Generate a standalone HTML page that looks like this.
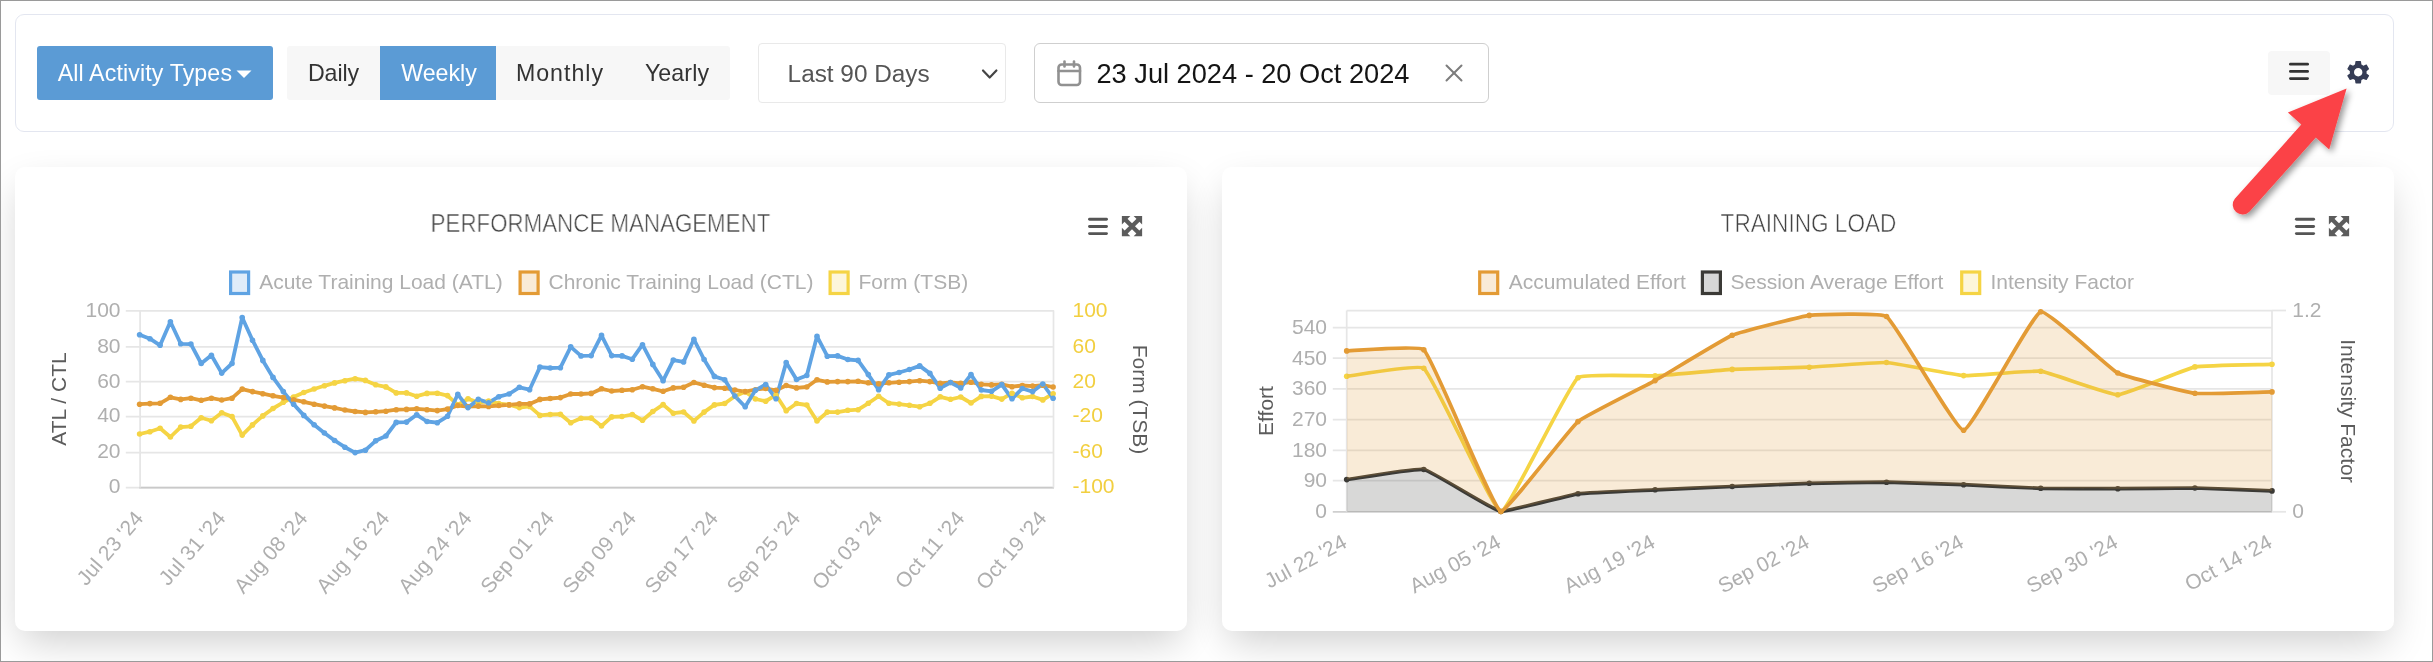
<!DOCTYPE html>
<html><head><meta charset="utf-8"><title>Dashboard</title>
<style>
html,body{margin:0;padding:0}
body{width:2433px;height:662px;position:relative;overflow:hidden;background:#fff;font-family:"Liberation Sans", sans-serif;}
.frame{position:absolute;left:0;top:0;width:2431px;height:660px;border:1px solid #9a9a9a;z-index:50;pointer-events:none}
#root{position:absolute;left:0;top:0;width:2433px;height:662px;will-change:transform;transform:translateZ(0)}
.abs{position:absolute;box-sizing:border-box}
.ch{position:absolute;left:0;top:0}
.tk{font-family:"Liberation Sans", sans-serif;font-size:21px}
.toolbar{left:15px;top:14px;width:2379px;height:118px;border:1px solid #e3e6f0;border-radius:9px;background:#fff}
.card{top:167px;width:1172px;height:464px;border-radius:10px;background:#fff;box-shadow:0 16px 40px -6px rgba(0,0,0,.2)}
.btn{top:46px;height:54px;line-height:55.5px;text-align:center;white-space:nowrap;font-size:23px}
.title{top:208.3px;font-size:25.2px;color:#444;text-align:center;white-space:nowrap;line-height:30px;-webkit-text-stroke:0.55px #fff}
</style></head><body>
<div id="root">
<div class="abs card" style="left:15px"></div>
<div class="abs card" style="left:1222px"></div>
<div class="abs toolbar"></div>

<div class="abs btn" style="left:37px;width:236px;background:#5b9bd5;border-radius:3px;color:#fff;text-align:left;padding-left:20.7px;font-size:23.2px;letter-spacing:0.12px">All Activity Types</div>
<div class="abs" style="left:287px;top:46px;width:443px;height:54px;background:#f7f7f7;border-radius:3px"></div>
<div class="abs btn" style="left:287px;width:93px;color:#333;font-size:23.2px;letter-spacing:-0.1px">Daily</div>
<div class="abs btn" style="left:380px;width:116px;background:#5b9bd5;color:#fff;font-size:23.2px;padding-left:2px">Weekly</div>
<div class="abs btn" style="left:496px;width:128px;color:#333;font-size:23.2px;letter-spacing:1px">Monthly</div>
<div class="abs btn" style="left:624px;width:106px;color:#333;font-size:23.2px;letter-spacing:0.1px">Yearly</div>

<div class="abs" style="left:758px;top:43px;width:248px;height:60px;border:1px solid #e9e9e9;border-radius:4px;background:#fff"></div>
<div class="abs" style="left:787.6px;top:43px;height:60px;line-height:62.3px;font-size:24.35px;color:#555;white-space:nowrap">Last 90 Days</div>

<div class="abs" style="left:1034px;top:43px;width:455px;height:60px;border:1px solid #cfcfcf;border-radius:6px;background:#fff"></div>
<div class="abs" style="left:1096.5px;top:43px;height:60px;line-height:62.5px;font-size:27.2px;color:#141414;white-space:nowrap">23 Jul 2024 - 20 Oct 2024</div>

<div class="abs" style="left:2268px;top:51px;width:62px;height:44px;background:#f7f7f7;border-radius:4px"></div>

<div class="abs title" style="left:300px;width:601px;transform:scaleX(0.886)">PERFORMANCE MANAGEMENT</div>
<div class="abs title" style="left:1507.6px;width:601px;transform:scaleX(0.897)">TRAINING LOAD</div>

<svg class="ch" width="2433" height="662" viewBox="0 0 2433 662">
<g><line x1="125.8" x2="1054" y1="310.9" y2="310.9" stroke="#e6e6e6" stroke-width="1.75"/><line x1="125.8" x2="1054" y1="346.8" y2="346.8" stroke="#e6e6e6" stroke-width="1.75"/><line x1="125.8" x2="1054" y1="381.7" y2="381.7" stroke="#e6e6e6" stroke-width="1.75"/><line x1="125.8" x2="1054" y1="416.6" y2="416.6" stroke="#e6e6e6" stroke-width="1.75"/><line x1="125.8" x2="1054" y1="452.6" y2="452.6" stroke="#e6e6e6" stroke-width="1.75"/><line x1="125.8" x2="1054" y1="487.6" y2="487.6" stroke="#e6e6e6" stroke-width="1.75"/><line x1="139.2" x2="1054" y1="487.6" y2="487.6" stroke="#c9c9c9" stroke-width="1.75"/><line x1="140.1" x2="140.1" y1="310.5" y2="487.6" stroke="#e6e6e6" stroke-width="1.75"/><line x1="1053.5" x2="1053.5" y1="310.5" y2="487.6" stroke="#e6e6e6" stroke-width="1.75"/></g>
<g fill="none" stroke-linejoin="round" stroke-linecap="round" stroke-width="3.8">
<polyline stroke="#f5d444" points="139.6,434.0 149.9,431.7 160.1,428.3 170.4,437.0 180.7,427.1 190.9,426.3 201.2,417.7 211.4,420.7 221.7,412.7 232.0,416.6 242.2,435.1 252.5,424.9 262.8,415.9 273.0,408.5 283.3,402.3 293.6,397.0 303.8,392.5 314.1,389.0 324.4,385.8 334.6,382.9 344.9,380.7 355.1,378.7 365.4,380.4 375.7,384.8 385.9,386.9 396.2,392.9 406.5,392.9 416.7,396.2 427.0,393.4 437.3,393.2 447.5,395.6 457.8,404.9 468.0,398.8 478.3,402.6 488.6,401.1 498.8,403.6 509.1,404.7 519.4,407.6 529.6,406.4 539.9,415.4 550.2,414.5 560.4,414.2 570.7,422.8 581.0,418.3 591.2,418.1 601.5,426.0 611.7,416.9 622.0,416.5 632.3,414.5 642.5,420.3 652.8,411.5 663.1,404.6 673.3,413.2 683.6,412.0 693.9,420.9 704.1,412.1 714.4,404.9 724.7,403.5 734.9,396.2 745.2,391.7 755.4,399.0 765.7,401.2 776.0,395.0 786.2,410.7 796.5,403.5 806.8,405.0 817.0,421.0 827.3,412.1 837.6,412.1 847.8,410.3 858.1,409.7 868.3,403.3 878.6,396.2 888.9,403.2 899.1,404.1 909.4,405.3 919.7,406.7 929.9,403.3 940.2,396.8 950.5,399.3 960.7,397.0 971.0,403.0 981.3,396.4 991.5,396.1 1001.8,399.1 1012.0,393.2 1022.3,397.8 1032.6,396.5 1042.8,399.9 1053.1,393.7"/>
<polyline stroke="#e39b35" points="139.6,404.2 149.9,403.6 160.1,403.3 170.4,397.3 180.7,399.4 190.9,398.2 201.2,400.3 211.4,398.2 221.7,400.0 232.0,398.2 242.2,389.1 252.5,391.6 262.8,393.7 273.0,395.8 283.3,397.6 293.6,399.7 303.8,401.8 314.1,404.2 324.4,406.1 334.6,407.9 344.9,410.0 355.1,411.5 365.4,412.4 375.7,411.8 385.9,411.2 396.2,409.7 406.5,409.4 416.7,408.8 427.0,409.7 437.3,410.6 447.5,409.1 457.8,405.5 468.0,406.7 478.3,406.1 488.6,406.4 498.8,405.5 509.1,404.9 519.4,403.9 529.6,403.9 539.9,399.4 550.2,398.5 560.4,397.6 570.7,394.0 581.0,394.0 591.2,393.4 601.5,388.8 611.7,391.0 622.0,390.3 632.3,389.7 642.5,386.7 652.8,388.8 663.1,391.3 673.3,387.9 683.6,387.3 693.9,382.5 704.1,385.2 714.4,387.6 724.7,388.2 734.9,390.0 745.2,391.6 755.4,389.7 765.7,388.5 776.0,390.3 786.2,385.5 796.5,387.9 806.8,387.0 817.0,379.8 827.3,381.9 837.6,381.6 847.8,381.6 858.1,381.3 868.3,382.8 878.6,383.7 888.9,382.8 899.1,382.2 909.4,381.6 919.7,380.7 929.9,381.6 940.2,383.4 950.5,382.5 960.7,383.4 971.0,382.2 981.3,384.3 991.5,384.9 1001.8,384.3 1012.0,386.7 1022.3,385.5 1032.6,386.1 1042.8,385.2 1053.1,387.0"/>
<polyline stroke="#5fa3e3" points="139.6,334.7 149.9,338.7 160.1,345.3 170.4,321.8 180.7,343.8 190.9,344.1 201.2,363.5 211.4,355.3 221.7,373.1 232.0,363.5 242.2,317.5 252.5,340.2 262.8,360.4 273.0,377.4 283.3,391.6 293.6,404.2 303.8,415.4 314.1,424.8 324.4,433.0 334.6,440.5 344.9,447.2 355.1,452.6 365.4,450.2 375.7,440.8 385.9,436.0 396.2,422.4 406.5,422.1 416.7,414.8 427.0,421.5 437.3,422.7 447.5,416.3 457.8,394.3 468.0,407.6 478.3,399.4 488.6,402.7 498.8,396.7 509.1,394.0 519.4,387.3 529.6,389.7 539.9,367.1 550.2,368.0 560.4,367.7 570.7,346.8 581.0,355.9 591.2,355.6 601.5,335.4 611.7,355.6 622.0,355.9 632.3,359.2 642.5,344.7 652.8,364.4 663.1,380.7 673.3,360.1 683.6,361.9 693.9,339.3 704.1,359.5 714.4,376.4 724.7,379.8 734.9,396.1 745.2,406.7 755.4,390.3 765.7,384.6 776.0,398.8 786.2,362.5 796.5,379.5 806.8,375.5 817.0,336.3 827.3,356.2 837.6,355.9 847.8,359.5 858.1,360.4 868.3,374.6 878.6,389.7 888.9,374.9 899.1,372.5 909.4,369.5 919.7,365.9 929.9,373.4 940.2,388.2 950.5,382.5 960.7,387.9 971.0,374.6 981.3,390.0 991.5,391.3 1001.8,384.6 1012.0,398.8 1022.3,388.5 1032.6,391.6 1042.8,384.0 1053.1,398.2"/>
</g>
<circle cx="139.6" cy="434.0" r="2.8" fill="#f5d444"/><circle cx="149.9" cy="431.7" r="2.8" fill="#f5d444"/><circle cx="160.1" cy="428.3" r="2.8" fill="#f5d444"/><circle cx="170.4" cy="437.0" r="2.8" fill="#f5d444"/><circle cx="180.7" cy="427.1" r="2.8" fill="#f5d444"/><circle cx="190.9" cy="426.3" r="2.8" fill="#f5d444"/><circle cx="201.2" cy="417.7" r="2.8" fill="#f5d444"/><circle cx="211.4" cy="420.7" r="2.8" fill="#f5d444"/><circle cx="221.7" cy="412.7" r="2.8" fill="#f5d444"/><circle cx="232.0" cy="416.6" r="2.8" fill="#f5d444"/><circle cx="242.2" cy="435.1" r="2.8" fill="#f5d444"/><circle cx="252.5" cy="424.9" r="2.8" fill="#f5d444"/><circle cx="262.8" cy="415.9" r="2.8" fill="#f5d444"/><circle cx="273.0" cy="408.5" r="2.8" fill="#f5d444"/><circle cx="283.3" cy="402.3" r="2.8" fill="#f5d444"/><circle cx="293.6" cy="397.0" r="2.8" fill="#f5d444"/><circle cx="303.8" cy="392.5" r="2.8" fill="#f5d444"/><circle cx="314.1" cy="389.0" r="2.8" fill="#f5d444"/><circle cx="324.4" cy="385.8" r="2.8" fill="#f5d444"/><circle cx="334.6" cy="382.9" r="2.8" fill="#f5d444"/><circle cx="344.9" cy="380.7" r="2.8" fill="#f5d444"/><circle cx="355.1" cy="378.7" r="2.8" fill="#f5d444"/><circle cx="365.4" cy="380.4" r="2.8" fill="#f5d444"/><circle cx="375.7" cy="384.8" r="2.8" fill="#f5d444"/><circle cx="385.9" cy="386.9" r="2.8" fill="#f5d444"/><circle cx="396.2" cy="392.9" r="2.8" fill="#f5d444"/><circle cx="406.5" cy="392.9" r="2.8" fill="#f5d444"/><circle cx="416.7" cy="396.2" r="2.8" fill="#f5d444"/><circle cx="427.0" cy="393.4" r="2.8" fill="#f5d444"/><circle cx="437.3" cy="393.2" r="2.8" fill="#f5d444"/><circle cx="447.5" cy="395.6" r="2.8" fill="#f5d444"/><circle cx="457.8" cy="404.9" r="2.8" fill="#f5d444"/><circle cx="468.0" cy="398.8" r="2.8" fill="#f5d444"/><circle cx="478.3" cy="402.6" r="2.8" fill="#f5d444"/><circle cx="488.6" cy="401.1" r="2.8" fill="#f5d444"/><circle cx="498.8" cy="403.6" r="2.8" fill="#f5d444"/><circle cx="509.1" cy="404.7" r="2.8" fill="#f5d444"/><circle cx="519.4" cy="407.6" r="2.8" fill="#f5d444"/><circle cx="529.6" cy="406.4" r="2.8" fill="#f5d444"/><circle cx="539.9" cy="415.4" r="2.8" fill="#f5d444"/><circle cx="550.2" cy="414.5" r="2.8" fill="#f5d444"/><circle cx="560.4" cy="414.2" r="2.8" fill="#f5d444"/><circle cx="570.7" cy="422.8" r="2.8" fill="#f5d444"/><circle cx="581.0" cy="418.3" r="2.8" fill="#f5d444"/><circle cx="591.2" cy="418.1" r="2.8" fill="#f5d444"/><circle cx="601.5" cy="426.0" r="2.8" fill="#f5d444"/><circle cx="611.7" cy="416.9" r="2.8" fill="#f5d444"/><circle cx="622.0" cy="416.5" r="2.8" fill="#f5d444"/><circle cx="632.3" cy="414.5" r="2.8" fill="#f5d444"/><circle cx="642.5" cy="420.3" r="2.8" fill="#f5d444"/><circle cx="652.8" cy="411.5" r="2.8" fill="#f5d444"/><circle cx="663.1" cy="404.6" r="2.8" fill="#f5d444"/><circle cx="673.3" cy="413.2" r="2.8" fill="#f5d444"/><circle cx="683.6" cy="412.0" r="2.8" fill="#f5d444"/><circle cx="693.9" cy="420.9" r="2.8" fill="#f5d444"/><circle cx="704.1" cy="412.1" r="2.8" fill="#f5d444"/><circle cx="714.4" cy="404.9" r="2.8" fill="#f5d444"/><circle cx="724.7" cy="403.5" r="2.8" fill="#f5d444"/><circle cx="734.9" cy="396.2" r="2.8" fill="#f5d444"/><circle cx="745.2" cy="391.7" r="2.8" fill="#f5d444"/><circle cx="755.4" cy="399.0" r="2.8" fill="#f5d444"/><circle cx="765.7" cy="401.2" r="2.8" fill="#f5d444"/><circle cx="776.0" cy="395.0" r="2.8" fill="#f5d444"/><circle cx="786.2" cy="410.7" r="2.8" fill="#f5d444"/><circle cx="796.5" cy="403.5" r="2.8" fill="#f5d444"/><circle cx="806.8" cy="405.0" r="2.8" fill="#f5d444"/><circle cx="817.0" cy="421.0" r="2.8" fill="#f5d444"/><circle cx="827.3" cy="412.1" r="2.8" fill="#f5d444"/><circle cx="837.6" cy="412.1" r="2.8" fill="#f5d444"/><circle cx="847.8" cy="410.3" r="2.8" fill="#f5d444"/><circle cx="858.1" cy="409.7" r="2.8" fill="#f5d444"/><circle cx="868.3" cy="403.3" r="2.8" fill="#f5d444"/><circle cx="878.6" cy="396.2" r="2.8" fill="#f5d444"/><circle cx="888.9" cy="403.2" r="2.8" fill="#f5d444"/><circle cx="899.1" cy="404.1" r="2.8" fill="#f5d444"/><circle cx="909.4" cy="405.3" r="2.8" fill="#f5d444"/><circle cx="919.7" cy="406.7" r="2.8" fill="#f5d444"/><circle cx="929.9" cy="403.3" r="2.8" fill="#f5d444"/><circle cx="940.2" cy="396.8" r="2.8" fill="#f5d444"/><circle cx="950.5" cy="399.3" r="2.8" fill="#f5d444"/><circle cx="960.7" cy="397.0" r="2.8" fill="#f5d444"/><circle cx="971.0" cy="403.0" r="2.8" fill="#f5d444"/><circle cx="981.3" cy="396.4" r="2.8" fill="#f5d444"/><circle cx="991.5" cy="396.1" r="2.8" fill="#f5d444"/><circle cx="1001.8" cy="399.1" r="2.8" fill="#f5d444"/><circle cx="1012.0" cy="393.2" r="2.8" fill="#f5d444"/><circle cx="1022.3" cy="397.8" r="2.8" fill="#f5d444"/><circle cx="1032.6" cy="396.5" r="2.8" fill="#f5d444"/><circle cx="1042.8" cy="399.9" r="2.8" fill="#f5d444"/><circle cx="1053.1" cy="393.7" r="2.8" fill="#f5d444"/><circle cx="139.6" cy="404.2" r="2.8" fill="#e39b35"/><circle cx="149.9" cy="403.6" r="2.8" fill="#e39b35"/><circle cx="160.1" cy="403.3" r="2.8" fill="#e39b35"/><circle cx="170.4" cy="397.3" r="2.8" fill="#e39b35"/><circle cx="180.7" cy="399.4" r="2.8" fill="#e39b35"/><circle cx="190.9" cy="398.2" r="2.8" fill="#e39b35"/><circle cx="201.2" cy="400.3" r="2.8" fill="#e39b35"/><circle cx="211.4" cy="398.2" r="2.8" fill="#e39b35"/><circle cx="221.7" cy="400.0" r="2.8" fill="#e39b35"/><circle cx="232.0" cy="398.2" r="2.8" fill="#e39b35"/><circle cx="242.2" cy="389.1" r="2.8" fill="#e39b35"/><circle cx="252.5" cy="391.6" r="2.8" fill="#e39b35"/><circle cx="262.8" cy="393.7" r="2.8" fill="#e39b35"/><circle cx="273.0" cy="395.8" r="2.8" fill="#e39b35"/><circle cx="283.3" cy="397.6" r="2.8" fill="#e39b35"/><circle cx="293.6" cy="399.7" r="2.8" fill="#e39b35"/><circle cx="303.8" cy="401.8" r="2.8" fill="#e39b35"/><circle cx="314.1" cy="404.2" r="2.8" fill="#e39b35"/><circle cx="324.4" cy="406.1" r="2.8" fill="#e39b35"/><circle cx="334.6" cy="407.9" r="2.8" fill="#e39b35"/><circle cx="344.9" cy="410.0" r="2.8" fill="#e39b35"/><circle cx="355.1" cy="411.5" r="2.8" fill="#e39b35"/><circle cx="365.4" cy="412.4" r="2.8" fill="#e39b35"/><circle cx="375.7" cy="411.8" r="2.8" fill="#e39b35"/><circle cx="385.9" cy="411.2" r="2.8" fill="#e39b35"/><circle cx="396.2" cy="409.7" r="2.8" fill="#e39b35"/><circle cx="406.5" cy="409.4" r="2.8" fill="#e39b35"/><circle cx="416.7" cy="408.8" r="2.8" fill="#e39b35"/><circle cx="427.0" cy="409.7" r="2.8" fill="#e39b35"/><circle cx="437.3" cy="410.6" r="2.8" fill="#e39b35"/><circle cx="447.5" cy="409.1" r="2.8" fill="#e39b35"/><circle cx="457.8" cy="405.5" r="2.8" fill="#e39b35"/><circle cx="468.0" cy="406.7" r="2.8" fill="#e39b35"/><circle cx="478.3" cy="406.1" r="2.8" fill="#e39b35"/><circle cx="488.6" cy="406.4" r="2.8" fill="#e39b35"/><circle cx="498.8" cy="405.5" r="2.8" fill="#e39b35"/><circle cx="509.1" cy="404.9" r="2.8" fill="#e39b35"/><circle cx="519.4" cy="403.9" r="2.8" fill="#e39b35"/><circle cx="529.6" cy="403.9" r="2.8" fill="#e39b35"/><circle cx="539.9" cy="399.4" r="2.8" fill="#e39b35"/><circle cx="550.2" cy="398.5" r="2.8" fill="#e39b35"/><circle cx="560.4" cy="397.6" r="2.8" fill="#e39b35"/><circle cx="570.7" cy="394.0" r="2.8" fill="#e39b35"/><circle cx="581.0" cy="394.0" r="2.8" fill="#e39b35"/><circle cx="591.2" cy="393.4" r="2.8" fill="#e39b35"/><circle cx="601.5" cy="388.8" r="2.8" fill="#e39b35"/><circle cx="611.7" cy="391.0" r="2.8" fill="#e39b35"/><circle cx="622.0" cy="390.3" r="2.8" fill="#e39b35"/><circle cx="632.3" cy="389.7" r="2.8" fill="#e39b35"/><circle cx="642.5" cy="386.7" r="2.8" fill="#e39b35"/><circle cx="652.8" cy="388.8" r="2.8" fill="#e39b35"/><circle cx="663.1" cy="391.3" r="2.8" fill="#e39b35"/><circle cx="673.3" cy="387.9" r="2.8" fill="#e39b35"/><circle cx="683.6" cy="387.3" r="2.8" fill="#e39b35"/><circle cx="693.9" cy="382.5" r="2.8" fill="#e39b35"/><circle cx="704.1" cy="385.2" r="2.8" fill="#e39b35"/><circle cx="714.4" cy="387.6" r="2.8" fill="#e39b35"/><circle cx="724.7" cy="388.2" r="2.8" fill="#e39b35"/><circle cx="734.9" cy="390.0" r="2.8" fill="#e39b35"/><circle cx="745.2" cy="391.6" r="2.8" fill="#e39b35"/><circle cx="755.4" cy="389.7" r="2.8" fill="#e39b35"/><circle cx="765.7" cy="388.5" r="2.8" fill="#e39b35"/><circle cx="776.0" cy="390.3" r="2.8" fill="#e39b35"/><circle cx="786.2" cy="385.5" r="2.8" fill="#e39b35"/><circle cx="796.5" cy="387.9" r="2.8" fill="#e39b35"/><circle cx="806.8" cy="387.0" r="2.8" fill="#e39b35"/><circle cx="817.0" cy="379.8" r="2.8" fill="#e39b35"/><circle cx="827.3" cy="381.9" r="2.8" fill="#e39b35"/><circle cx="837.6" cy="381.6" r="2.8" fill="#e39b35"/><circle cx="847.8" cy="381.6" r="2.8" fill="#e39b35"/><circle cx="858.1" cy="381.3" r="2.8" fill="#e39b35"/><circle cx="868.3" cy="382.8" r="2.8" fill="#e39b35"/><circle cx="878.6" cy="383.7" r="2.8" fill="#e39b35"/><circle cx="888.9" cy="382.8" r="2.8" fill="#e39b35"/><circle cx="899.1" cy="382.2" r="2.8" fill="#e39b35"/><circle cx="909.4" cy="381.6" r="2.8" fill="#e39b35"/><circle cx="919.7" cy="380.7" r="2.8" fill="#e39b35"/><circle cx="929.9" cy="381.6" r="2.8" fill="#e39b35"/><circle cx="940.2" cy="383.4" r="2.8" fill="#e39b35"/><circle cx="950.5" cy="382.5" r="2.8" fill="#e39b35"/><circle cx="960.7" cy="383.4" r="2.8" fill="#e39b35"/><circle cx="971.0" cy="382.2" r="2.8" fill="#e39b35"/><circle cx="981.3" cy="384.3" r="2.8" fill="#e39b35"/><circle cx="991.5" cy="384.9" r="2.8" fill="#e39b35"/><circle cx="1001.8" cy="384.3" r="2.8" fill="#e39b35"/><circle cx="1012.0" cy="386.7" r="2.8" fill="#e39b35"/><circle cx="1022.3" cy="385.5" r="2.8" fill="#e39b35"/><circle cx="1032.6" cy="386.1" r="2.8" fill="#e39b35"/><circle cx="1042.8" cy="385.2" r="2.8" fill="#e39b35"/><circle cx="1053.1" cy="387.0" r="2.8" fill="#e39b35"/><circle cx="139.6" cy="334.7" r="2.8" fill="#5fa3e3"/><circle cx="149.9" cy="338.7" r="2.8" fill="#5fa3e3"/><circle cx="160.1" cy="345.3" r="2.8" fill="#5fa3e3"/><circle cx="170.4" cy="321.8" r="2.8" fill="#5fa3e3"/><circle cx="180.7" cy="343.8" r="2.8" fill="#5fa3e3"/><circle cx="190.9" cy="344.1" r="2.8" fill="#5fa3e3"/><circle cx="201.2" cy="363.5" r="2.8" fill="#5fa3e3"/><circle cx="211.4" cy="355.3" r="2.8" fill="#5fa3e3"/><circle cx="221.7" cy="373.1" r="2.8" fill="#5fa3e3"/><circle cx="232.0" cy="363.5" r="2.8" fill="#5fa3e3"/><circle cx="242.2" cy="317.5" r="2.8" fill="#5fa3e3"/><circle cx="252.5" cy="340.2" r="2.8" fill="#5fa3e3"/><circle cx="262.8" cy="360.4" r="2.8" fill="#5fa3e3"/><circle cx="273.0" cy="377.4" r="2.8" fill="#5fa3e3"/><circle cx="283.3" cy="391.6" r="2.8" fill="#5fa3e3"/><circle cx="293.6" cy="404.2" r="2.8" fill="#5fa3e3"/><circle cx="303.8" cy="415.4" r="2.8" fill="#5fa3e3"/><circle cx="314.1" cy="424.8" r="2.8" fill="#5fa3e3"/><circle cx="324.4" cy="433.0" r="2.8" fill="#5fa3e3"/><circle cx="334.6" cy="440.5" r="2.8" fill="#5fa3e3"/><circle cx="344.9" cy="447.2" r="2.8" fill="#5fa3e3"/><circle cx="355.1" cy="452.6" r="2.8" fill="#5fa3e3"/><circle cx="365.4" cy="450.2" r="2.8" fill="#5fa3e3"/><circle cx="375.7" cy="440.8" r="2.8" fill="#5fa3e3"/><circle cx="385.9" cy="436.0" r="2.8" fill="#5fa3e3"/><circle cx="396.2" cy="422.4" r="2.8" fill="#5fa3e3"/><circle cx="406.5" cy="422.1" r="2.8" fill="#5fa3e3"/><circle cx="416.7" cy="414.8" r="2.8" fill="#5fa3e3"/><circle cx="427.0" cy="421.5" r="2.8" fill="#5fa3e3"/><circle cx="437.3" cy="422.7" r="2.8" fill="#5fa3e3"/><circle cx="447.5" cy="416.3" r="2.8" fill="#5fa3e3"/><circle cx="457.8" cy="394.3" r="2.8" fill="#5fa3e3"/><circle cx="468.0" cy="407.6" r="2.8" fill="#5fa3e3"/><circle cx="478.3" cy="399.4" r="2.8" fill="#5fa3e3"/><circle cx="488.6" cy="402.7" r="2.8" fill="#5fa3e3"/><circle cx="498.8" cy="396.7" r="2.8" fill="#5fa3e3"/><circle cx="509.1" cy="394.0" r="2.8" fill="#5fa3e3"/><circle cx="519.4" cy="387.3" r="2.8" fill="#5fa3e3"/><circle cx="529.6" cy="389.7" r="2.8" fill="#5fa3e3"/><circle cx="539.9" cy="367.1" r="2.8" fill="#5fa3e3"/><circle cx="550.2" cy="368.0" r="2.8" fill="#5fa3e3"/><circle cx="560.4" cy="367.7" r="2.8" fill="#5fa3e3"/><circle cx="570.7" cy="346.8" r="2.8" fill="#5fa3e3"/><circle cx="581.0" cy="355.9" r="2.8" fill="#5fa3e3"/><circle cx="591.2" cy="355.6" r="2.8" fill="#5fa3e3"/><circle cx="601.5" cy="335.4" r="2.8" fill="#5fa3e3"/><circle cx="611.7" cy="355.6" r="2.8" fill="#5fa3e3"/><circle cx="622.0" cy="355.9" r="2.8" fill="#5fa3e3"/><circle cx="632.3" cy="359.2" r="2.8" fill="#5fa3e3"/><circle cx="642.5" cy="344.7" r="2.8" fill="#5fa3e3"/><circle cx="652.8" cy="364.4" r="2.8" fill="#5fa3e3"/><circle cx="663.1" cy="380.7" r="2.8" fill="#5fa3e3"/><circle cx="673.3" cy="360.1" r="2.8" fill="#5fa3e3"/><circle cx="683.6" cy="361.9" r="2.8" fill="#5fa3e3"/><circle cx="693.9" cy="339.3" r="2.8" fill="#5fa3e3"/><circle cx="704.1" cy="359.5" r="2.8" fill="#5fa3e3"/><circle cx="714.4" cy="376.4" r="2.8" fill="#5fa3e3"/><circle cx="724.7" cy="379.8" r="2.8" fill="#5fa3e3"/><circle cx="734.9" cy="396.1" r="2.8" fill="#5fa3e3"/><circle cx="745.2" cy="406.7" r="2.8" fill="#5fa3e3"/><circle cx="755.4" cy="390.3" r="2.8" fill="#5fa3e3"/><circle cx="765.7" cy="384.6" r="2.8" fill="#5fa3e3"/><circle cx="776.0" cy="398.8" r="2.8" fill="#5fa3e3"/><circle cx="786.2" cy="362.5" r="2.8" fill="#5fa3e3"/><circle cx="796.5" cy="379.5" r="2.8" fill="#5fa3e3"/><circle cx="806.8" cy="375.5" r="2.8" fill="#5fa3e3"/><circle cx="817.0" cy="336.3" r="2.8" fill="#5fa3e3"/><circle cx="827.3" cy="356.2" r="2.8" fill="#5fa3e3"/><circle cx="837.6" cy="355.9" r="2.8" fill="#5fa3e3"/><circle cx="847.8" cy="359.5" r="2.8" fill="#5fa3e3"/><circle cx="858.1" cy="360.4" r="2.8" fill="#5fa3e3"/><circle cx="868.3" cy="374.6" r="2.8" fill="#5fa3e3"/><circle cx="878.6" cy="389.7" r="2.8" fill="#5fa3e3"/><circle cx="888.9" cy="374.9" r="2.8" fill="#5fa3e3"/><circle cx="899.1" cy="372.5" r="2.8" fill="#5fa3e3"/><circle cx="909.4" cy="369.5" r="2.8" fill="#5fa3e3"/><circle cx="919.7" cy="365.9" r="2.8" fill="#5fa3e3"/><circle cx="929.9" cy="373.4" r="2.8" fill="#5fa3e3"/><circle cx="940.2" cy="388.2" r="2.8" fill="#5fa3e3"/><circle cx="950.5" cy="382.5" r="2.8" fill="#5fa3e3"/><circle cx="960.7" cy="387.9" r="2.8" fill="#5fa3e3"/><circle cx="971.0" cy="374.6" r="2.8" fill="#5fa3e3"/><circle cx="981.3" cy="390.0" r="2.8" fill="#5fa3e3"/><circle cx="991.5" cy="391.3" r="2.8" fill="#5fa3e3"/><circle cx="1001.8" cy="384.6" r="2.8" fill="#5fa3e3"/><circle cx="1012.0" cy="398.8" r="2.8" fill="#5fa3e3"/><circle cx="1022.3" cy="388.5" r="2.8" fill="#5fa3e3"/><circle cx="1032.6" cy="391.6" r="2.8" fill="#5fa3e3"/><circle cx="1042.8" cy="384.0" r="2.8" fill="#5fa3e3"/><circle cx="1053.1" cy="398.2" r="2.8" fill="#5fa3e3"/>
<g><text x="120.5" y="316.7" text-anchor="end" fill="#afafaf" class="tk">100</text><text x="1072.5" y="316.7" fill="#f2cf3f" class="tk">100</text><text x="120.5" y="352.6" text-anchor="end" fill="#afafaf" class="tk">80</text><text x="1072.5" y="352.6" fill="#f2cf3f" class="tk">60</text><text x="120.5" y="387.5" text-anchor="end" fill="#afafaf" class="tk">60</text><text x="1072.5" y="387.5" fill="#f2cf3f" class="tk">20</text><text x="120.5" y="422.4" text-anchor="end" fill="#afafaf" class="tk">40</text><text x="1072.5" y="422.4" fill="#f2cf3f" class="tk">-20</text><text x="120.5" y="458.4" text-anchor="end" fill="#afafaf" class="tk">20</text><text x="1072.5" y="458.4" fill="#f2cf3f" class="tk">-60</text><text x="120.5" y="493.4" text-anchor="end" fill="#afafaf" class="tk">0</text><text x="1072.5" y="493.4" fill="#f2cf3f" class="tk">-100</text><text transform="translate(144.4,519.0) rotate(-49.3)" text-anchor="end" fill="#afafaf" class="tk">Jul 23 '24</text><text transform="translate(226.5,519.0) rotate(-49.3)" text-anchor="end" fill="#afafaf" class="tk">Jul 31 '24</text><text transform="translate(308.6,519.0) rotate(-49.3)" text-anchor="end" fill="#afafaf" class="tk">Aug 08 '24</text><text transform="translate(390.7,519.0) rotate(-49.3)" text-anchor="end" fill="#afafaf" class="tk">Aug 16 '24</text><text transform="translate(472.8,519.0) rotate(-49.3)" text-anchor="end" fill="#afafaf" class="tk">Aug 24 '24</text><text transform="translate(555.0,519.0) rotate(-49.3)" text-anchor="end" fill="#afafaf" class="tk">Sep 01 '24</text><text transform="translate(637.1,519.0) rotate(-49.3)" text-anchor="end" fill="#afafaf" class="tk">Sep 09 '24</text><text transform="translate(719.2,519.0) rotate(-49.3)" text-anchor="end" fill="#afafaf" class="tk">Sep 17 '24</text><text transform="translate(801.3,519.0) rotate(-49.3)" text-anchor="end" fill="#afafaf" class="tk">Sep 25 '24</text><text transform="translate(883.4,519.0) rotate(-49.3)" text-anchor="end" fill="#afafaf" class="tk">Oct 03 '24</text><text transform="translate(965.5,519.0) rotate(-49.3)" text-anchor="end" fill="#afafaf" class="tk">Oct 11 '24</text><text transform="translate(1047.6,519.0) rotate(-49.3)" text-anchor="end" fill="#afafaf" class="tk">Oct 19 '24</text></g>
<text transform="translate(66,399) rotate(-90)" text-anchor="middle" fill="#5c5c5c" class="tk">ATL / CTL</text>
<text transform="translate(1132.5,399.5) rotate(90)" text-anchor="middle" fill="#5c5c5c" class="tk">Form (TSB)</text>
</svg>

<svg class="ch" width="2433" height="662" viewBox="0 0 2433 662">
<defs><clipPath id="aboveSes"><path d="M1346.7,479.6 C1354.4,478.6 1416.6,468.0 1423.8,469.5 C1432.0,471.2 1492.8,510.2 1500.9,511.5 C1508.2,511.3 1570.2,494.9 1578.0,493.8 C1585.6,492.7 1647.4,490.2 1655.1,489.8 C1662.8,489.4 1724.5,486.8 1732.2,486.5 C1740.0,486.2 1801.6,483.5 1809.3,483.3 C1817.1,483.1 1878.7,482.1 1886.5,482.2 C1894.2,482.3 1955.9,484.4 1963.6,484.7 C1971.3,485.0 2033.0,488.1 2040.7,488.3 C2048.4,488.5 2110.1,488.7 2117.8,488.7 C2125.5,488.7 2187.2,487.9 2194.9,488.0 C2202.6,488.1 2264.3,490.6 2272.0,490.9 L2272.0,300 L1346.7,300 Z"/></clipPath></defs>
<g><line x1="1346.7" x2="2272.0" y1="310.5" y2="310.5" stroke="#e6e6e6" stroke-width="1.75"/><line x1="1332.8" x2="2272.0" y1="327.6" y2="327.6" stroke="#e6e6e6" stroke-width="1.75"/><line x1="1332.8" x2="2272.0" y1="358.2" y2="358.2" stroke="#e6e6e6" stroke-width="1.75"/><line x1="1332.8" x2="2272.0" y1="388.8" y2="388.8" stroke="#e6e6e6" stroke-width="1.75"/><line x1="1332.8" x2="2272.0" y1="419.6" y2="419.6" stroke="#e6e6e6" stroke-width="1.75"/><line x1="1332.8" x2="2272.0" y1="450.4" y2="450.4" stroke="#e6e6e6" stroke-width="1.75"/><line x1="1332.8" x2="2272.0" y1="480.6" y2="480.6" stroke="#e6e6e6" stroke-width="1.75"/><line x1="1332.8" x2="2272.0" y1="511.8" y2="511.8" stroke="#cfcfcf" stroke-width="1.75"/><line x1="1346.7" x2="1346.7" y1="310.5" y2="511.8" stroke="#e6e6e6" stroke-width="1.75"/><line x1="2272.0" x2="2272.0" y1="310.5" y2="511.8" stroke="#e6e6e6" stroke-width="1.75"/><line x1="2272.0" x2="2286" y1="310.5" y2="310.5" stroke="#e6e6e6" stroke-width="1.75"/><line x1="2272.0" x2="2286" y1="511.8" y2="511.8" stroke="#e6e6e6" stroke-width="1.75"/></g>
<g fill="none" stroke-linejoin="round" stroke-linecap="round" stroke-width="3.7">
<path d="M1346.7,376.3 C1354.4,375.5 1418.8,363.9 1423.8,368.3 C1434.3,377.5 1493.0,511.0 1500.9,511.5 C1508.4,511.3 1567.7,386.7 1578.0,377.7 C1583.2,373.2 1647.4,376.3 1655.1,375.9 C1662.9,375.5 1724.5,369.8 1732.2,369.4 C1739.9,369.0 1801.6,367.5 1809.3,367.2 C1817.1,366.9 1878.8,362.1 1886.5,362.5 C1894.2,362.9 1955.8,375.2 1963.6,375.6 C1971.2,376.0 2033.1,370.3 2040.7,371.2 C2048.6,372.2 2110.1,395.0 2117.8,394.8 C2125.6,394.6 2186.9,368.5 2194.9,366.9 C2202.4,365.4 2264.3,364.6 2272.0,364.3" stroke="#f5d444"/><circle cx="1346.7" cy="376.3" r="2.8" fill="#f5d444" stroke="none"/><circle cx="1423.8" cy="368.3" r="2.8" fill="#f5d444" stroke="none"/><circle cx="1500.9" cy="511.5" r="2.8" fill="#f5d444" stroke="none"/><circle cx="1578.0" cy="377.7" r="2.8" fill="#f5d444" stroke="none"/><circle cx="1655.1" cy="375.9" r="2.8" fill="#f5d444" stroke="none"/><circle cx="1732.2" cy="369.4" r="2.8" fill="#f5d444" stroke="none"/><circle cx="1809.3" cy="367.2" r="2.8" fill="#f5d444" stroke="none"/><circle cx="1886.5" cy="362.5" r="2.8" fill="#f5d444" stroke="none"/><circle cx="1963.6" cy="375.6" r="2.8" fill="#f5d444" stroke="none"/><circle cx="2040.7" cy="371.2" r="2.8" fill="#f5d444" stroke="none"/><circle cx="2117.8" cy="394.8" r="2.8" fill="#f5d444" stroke="none"/><circle cx="2194.9" cy="366.9" r="2.8" fill="#f5d444" stroke="none"/><circle cx="2272.0" cy="364.3" r="2.8" fill="#f5d444" stroke="none"/>
<path d="M1346.7,479.6 C1354.4,478.6 1416.6,468.0 1423.8,469.5 C1432.0,471.2 1492.8,510.2 1500.9,511.5 C1508.2,511.3 1570.2,494.9 1578.0,493.8 C1585.6,492.7 1647.4,490.2 1655.1,489.8 C1662.8,489.4 1724.5,486.8 1732.2,486.5 C1740.0,486.2 1801.6,483.5 1809.3,483.3 C1817.1,483.1 1878.7,482.1 1886.5,482.2 C1894.2,482.3 1955.9,484.4 1963.6,484.7 C1971.3,485.0 2033.0,488.1 2040.7,488.3 C2048.4,488.5 2110.1,488.7 2117.8,488.7 C2125.5,488.7 2187.2,487.9 2194.9,488.0 C2202.6,488.1 2264.3,490.6 2272.0,490.9 L2272.0,511.8 L1346.7,511.8 Z" fill="rgba(59,58,54,0.20)" stroke="none"/>
<path d="M1346.7,479.6 C1354.4,478.6 1416.6,468.0 1423.8,469.5 C1432.0,471.2 1492.8,510.2 1500.9,511.5 C1508.2,511.3 1570.2,494.9 1578.0,493.8 C1585.6,492.7 1647.4,490.2 1655.1,489.8 C1662.8,489.4 1724.5,486.8 1732.2,486.5 C1740.0,486.2 1801.6,483.5 1809.3,483.3 C1817.1,483.1 1878.7,482.1 1886.5,482.2 C1894.2,482.3 1955.9,484.4 1963.6,484.7 C1971.3,485.0 2033.0,488.1 2040.7,488.3 C2048.4,488.5 2110.1,488.7 2117.8,488.7 C2125.5,488.7 2187.2,487.9 2194.9,488.0 C2202.6,488.1 2264.3,490.6 2272.0,490.9" stroke="#3b3a36"/><circle cx="1346.7" cy="479.6" r="2.8" fill="#3b3a36" stroke="none"/><circle cx="1423.8" cy="469.5" r="2.8" fill="#3b3a36" stroke="none"/><circle cx="1500.9" cy="511.5" r="2.8" fill="#3b3a36" stroke="none"/><circle cx="1578.0" cy="493.8" r="2.8" fill="#3b3a36" stroke="none"/><circle cx="1655.1" cy="489.8" r="2.8" fill="#3b3a36" stroke="none"/><circle cx="1732.2" cy="486.5" r="2.8" fill="#3b3a36" stroke="none"/><circle cx="1809.3" cy="483.3" r="2.8" fill="#3b3a36" stroke="none"/><circle cx="1886.5" cy="482.2" r="2.8" fill="#3b3a36" stroke="none"/><circle cx="1963.6" cy="484.7" r="2.8" fill="#3b3a36" stroke="none"/><circle cx="2040.7" cy="488.3" r="2.8" fill="#3b3a36" stroke="none"/><circle cx="2117.8" cy="488.7" r="2.8" fill="#3b3a36" stroke="none"/><circle cx="2194.9" cy="488.0" r="2.8" fill="#3b3a36" stroke="none"/><circle cx="2272.0" cy="490.9" r="2.8" fill="#3b3a36" stroke="none"/>
<path d="M1346.7,350.9 C1354.4,350.8 1419.2,345.0 1423.8,349.8 C1434.6,361.0 1491.6,507.2 1500.9,511.5 C1507.1,511.3 1569.1,429.1 1578.0,421.6 C1584.6,416.0 1647.5,384.9 1655.1,380.6 C1662.9,376.2 1724.1,338.7 1732.2,335.3 C1739.5,332.2 1801.5,316.4 1809.3,315.4 C1816.9,314.5 1880.9,312.4 1886.5,316.5 C1896.3,323.9 1956.0,430.5 1963.6,430.3 C1971.4,430.1 2031.6,315.2 2040.7,311.8 C2047.0,309.4 2109.3,368.5 2117.8,373.0 C2124.7,376.6 2187.1,392.3 2194.9,393.3 C2202.5,394.2 2264.3,392.0 2272.0,391.9 L2272.0,511.8 L1346.7,511.8 Z" fill="rgba(227,155,53,0.20)" stroke="none" clip-path="url(#aboveSes)"/>
<path d="M1346.7,350.9 C1354.4,350.8 1419.2,345.0 1423.8,349.8 C1434.6,361.0 1491.6,507.2 1500.9,511.5 C1507.1,511.3 1569.1,429.1 1578.0,421.6 C1584.6,416.0 1647.5,384.9 1655.1,380.6 C1662.9,376.2 1724.1,338.7 1732.2,335.3 C1739.5,332.2 1801.5,316.4 1809.3,315.4 C1816.9,314.5 1880.9,312.4 1886.5,316.5 C1896.3,323.9 1956.0,430.5 1963.6,430.3 C1971.4,430.1 2031.6,315.2 2040.7,311.8 C2047.0,309.4 2109.3,368.5 2117.8,373.0 C2124.7,376.6 2187.1,392.3 2194.9,393.3 C2202.5,394.2 2264.3,392.0 2272.0,391.9" stroke="#e39b35"/><circle cx="1346.7" cy="350.9" r="2.8" fill="#e39b35" stroke="none"/><circle cx="1423.8" cy="349.8" r="2.8" fill="#e39b35" stroke="none"/><circle cx="1500.9" cy="511.5" r="2.8" fill="#e39b35" stroke="none"/><circle cx="1578.0" cy="421.6" r="2.8" fill="#e39b35" stroke="none"/><circle cx="1655.1" cy="380.6" r="2.8" fill="#e39b35" stroke="none"/><circle cx="1732.2" cy="335.3" r="2.8" fill="#e39b35" stroke="none"/><circle cx="1809.3" cy="315.4" r="2.8" fill="#e39b35" stroke="none"/><circle cx="1886.5" cy="316.5" r="2.8" fill="#e39b35" stroke="none"/><circle cx="1963.6" cy="430.3" r="2.8" fill="#e39b35" stroke="none"/><circle cx="2040.7" cy="311.8" r="2.8" fill="#e39b35" stroke="none"/><circle cx="2117.8" cy="373.0" r="2.8" fill="#e39b35" stroke="none"/><circle cx="2194.9" cy="393.3" r="2.8" fill="#e39b35" stroke="none"/><circle cx="2272.0" cy="391.9" r="2.8" fill="#e39b35" stroke="none"/>
</g>
<g><text x="1327" y="334.2" text-anchor="end" fill="#afafaf" class="tk">540</text><text x="1327" y="364.8" text-anchor="end" fill="#afafaf" class="tk">450</text><text x="1327" y="395.4" text-anchor="end" fill="#afafaf" class="tk">360</text><text x="1327" y="426.2" text-anchor="end" fill="#afafaf" class="tk">270</text><text x="1327" y="457.0" text-anchor="end" fill="#afafaf" class="tk">180</text><text x="1327" y="487.2" text-anchor="end" fill="#afafaf" class="tk">90</text><text x="1327" y="518.4" text-anchor="end" fill="#afafaf" class="tk">0</text><text x="2292.3" y="317.1" fill="#afafaf" class="tk">1.2</text><text x="2292.3" y="518.4" fill="#afafaf" class="tk">0</text><text transform="translate(1348.2,546.5) rotate(-28.2)" text-anchor="end" fill="#afafaf" class="tk">Jul 22 '24</text><text transform="translate(1502.4,546.5) rotate(-28.2)" text-anchor="end" fill="#afafaf" class="tk">Aug 05 '24</text><text transform="translate(1656.6,546.5) rotate(-28.2)" text-anchor="end" fill="#afafaf" class="tk">Aug 19 '24</text><text transform="translate(1810.8,546.5) rotate(-28.2)" text-anchor="end" fill="#afafaf" class="tk">Sep 02 '24</text><text transform="translate(1965.1,546.5) rotate(-28.2)" text-anchor="end" fill="#afafaf" class="tk">Sep 16 '24</text><text transform="translate(2119.3,546.5) rotate(-28.2)" text-anchor="end" fill="#afafaf" class="tk">Sep 30 '24</text><text transform="translate(2273.5,546.5) rotate(-28.2)" text-anchor="end" fill="#afafaf" class="tk">Oct 14 '24</text></g>
<text transform="translate(1273,411) rotate(-90)" text-anchor="middle" fill="#5c5c5c" class="tk">Effort</text>
<text transform="translate(2341,411) rotate(90)" text-anchor="middle" fill="#5c5c5c" class="tk">Intensity Factor</text>
</svg>

<svg class="ch" width="2433" height="662" viewBox="0 0 2433 662">
<g><rect x="230.6" y="272" width="18" height="21.5" fill="#dfecf9" stroke="#5fa3e3" stroke-width="3.2"/><text x="259.2" y="289.3" fill="#afafaf" class="tk">Acute Training Load (ATL)</text><rect x="520.1" y="272" width="18" height="21.5" fill="#f9ebd7" stroke="#e39b35" stroke-width="3.2"/><text x="548.5" y="289.3" fill="#afafaf" class="tk">Chronic Training Load (CTL)</text><rect x="830.1" y="272" width="18" height="21.5" fill="#fdf6da" stroke="#f5d444" stroke-width="3.2"/><text x="858.5" y="289.3" fill="#afafaf" class="tk">Form (TSB)</text><rect x="1479.7" y="272" width="18" height="21.5" fill="#f9ebd7" stroke="#e39b35" stroke-width="3.2"/><text x="1508.7" y="289.3" fill="#afafaf" class="tk">Accumulated Effort</text><rect x="1702.4" y="272" width="18" height="21.5" fill="#d7d7d6" stroke="#3b3a36" stroke-width="3.2"/><text x="1730.5" y="289.3" fill="#afafaf" class="tk">Session Average Effort</text><rect x="1961.7" y="272" width="18" height="21.5" fill="#fdf6da" stroke="#f5d444" stroke-width="3.2"/><text x="1990.4" y="289.3" fill="#afafaf" class="tk">Intensity Factor</text></g>
<line x1="1089.5" x2="1106.5" y1="219.3" y2="219.3" stroke="#555" stroke-width="2.9" stroke-linecap="round"/><line x1="1089.5" x2="1106.5" y1="226.5" y2="226.5" stroke="#555" stroke-width="2.9" stroke-linecap="round"/><line x1="1089.5" x2="1106.5" y1="233.6" y2="233.6" stroke="#555" stroke-width="2.9" stroke-linecap="round"/>
<line x1="2296.4" x2="2313.6" y1="219.3" y2="219.3" stroke="#555" stroke-width="2.9" stroke-linecap="round"/><line x1="2296.4" x2="2313.6" y1="226.5" y2="226.5" stroke="#555" stroke-width="2.9" stroke-linecap="round"/><line x1="2296.4" x2="2313.6" y1="233.6" y2="233.6" stroke="#555" stroke-width="2.9" stroke-linecap="round"/>
<g transform="translate(1121.90,216.10) scale(1.0100)" fill="#5c5c5c" stroke="none"><polygon points="0.00,0.00 8.40,0.00 0.00,8.40"/><polygon points="20.00,0.00 11.60,0.00 20.00,8.40"/><polygon points="0.00,20.00 8.40,20.00 0.00,11.60"/><polygon points="20.00,20.00 11.60,20.00 20.00,11.60"/><line x1="3" y1="3" x2="17" y2="17" stroke="#5c5c5c" stroke-width="4.2"/><line x1="17" y1="3" x2="3" y2="17" stroke="#5c5c5c" stroke-width="4.2"/></g>
<g transform="translate(2328.90,216.10) scale(1.0100)" fill="#5c5c5c" stroke="none"><polygon points="0.00,0.00 8.40,0.00 0.00,8.40"/><polygon points="20.00,0.00 11.60,0.00 20.00,8.40"/><polygon points="0.00,20.00 8.40,20.00 0.00,11.60"/><polygon points="20.00,20.00 11.60,20.00 20.00,11.60"/><line x1="3" y1="3" x2="17" y2="17" stroke="#5c5c5c" stroke-width="4.2"/><line x1="17" y1="3" x2="3" y2="17" stroke="#5c5c5c" stroke-width="4.2"/></g>
<line x1="2290.4" x2="2307.6" y1="64.2" y2="64.2" stroke="#333" stroke-width="2.8" stroke-linecap="round"/><line x1="2290.4" x2="2307.6" y1="71.4" y2="71.4" stroke="#333" stroke-width="2.8" stroke-linecap="round"/><line x1="2290.4" x2="2307.6" y1="78.6" y2="78.6" stroke="#333" stroke-width="2.8" stroke-linecap="round"/>
<g transform="translate(2344.2,58.3) scale(1.167)"><path d="M19.14,12.94c0.04-0.3,0.06-0.61,0.06-0.94c0-0.32-0.02-0.64-0.07-0.94l2.03-1.58c0.18-0.14,0.23-0.41,0.12-0.61 l-1.92-3.32c-0.12-0.22-0.37-0.29-0.59-0.22l-2.39,0.96c-0.5-0.38-1.03-0.7-1.62-0.94L14.4,2.81c-0.04-0.24-0.24-0.41-0.48-0.41 h-3.84c-0.24,0-0.43,0.17-0.47,0.41L9.25,5.35C8.66,5.59,8.12,5.92,7.63,6.29L5.24,5.33c-0.22-0.08-0.47,0-0.59,0.22L2.74,8.87 C2.62,9.08,2.66,9.34,2.86,9.48l2.03,1.58C4.84,11.36,4.8,11.69,4.8,12s0.02,0.64,0.07,0.94l-2.03,1.58 c-0.18,0.14-0.23,0.41-0.12,0.61l1.92,3.32c0.12,0.22,0.37,0.29,0.59,0.22l2.39-0.96c0.5,0.38,1.03,0.7,1.62,0.94l0.36,2.54 c0.05,0.24,0.24,0.41,0.48,0.41h3.84c0.24,0,0.44-0.17,0.47-0.41l0.36-2.54c0.59-0.24,1.13-0.56,1.62-0.94l2.39,0.96 c0.22,0.08,0.47,0,0.59-0.22l1.92-3.32c0.12-0.22,0.07-0.47-0.12-0.61L19.14,12.94z M12,15.6c-1.98,0-3.6-1.62-3.6-3.6 s1.62-3.6,3.6-3.6s3.6,1.62,3.6,3.6S13.98,15.6,12,15.6z" fill="#353c55"/></g>
<!-- calendar -->
<g fill="none" stroke="#919191" stroke-width="2.6" stroke-linecap="round" stroke-linejoin="round">
<rect x="1058.5" y="64.5" width="21.5" height="20.5" rx="3.2"/>
<line x1="1058.5" x2="1080" y1="71" y2="71"/>
<line x1="1064.5" x2="1064.5" y1="61.5" y2="66.5"/>
<line x1="1074" x2="1074" y1="61.5" y2="66.5"/>
</g>
<!-- clear x -->
<g stroke="#7d7d7d" stroke-width="2" stroke-linecap="round"><line x1="1446.5" y1="65.5" x2="1461.5" y2="80.5"/><line x1="1461.5" y1="65.5" x2="1446.5" y2="80.5"/></g>
<!-- select chevron -->
<polyline points="983,70.5 989.7,77.5 996.4,70.5" fill="none" stroke="#444" stroke-width="2.2" stroke-linecap="round" stroke-linejoin="round"/>
<!-- caret -->
<path d="M236.5,70.5 L251.5,70.5 L244,78 Z" fill="#fff"/>
</svg>

<svg class="ch" style="overflow:visible" width="2433" height="662" viewBox="0 0 2433 662">
<defs><filter id="sh" x="-30%" y="-30%" width="160%" height="160%"><feDropShadow dx="3" dy="3" stdDeviation="3" flood-color="#000" flood-opacity="0.4"/></filter></defs>
<path d="M2346.6,88.6 L2329.2,149.6 L2315.8,137.6 L2249.4,211.8 A9.8,9.8 0 0 1 2234.8,198.8 L2301.3,124.6 L2287.9,112.6 Z" fill="#fb4346" filter="url(#sh)"/>
</svg>
<div class="frame"></div>
</div>
</body></html>
